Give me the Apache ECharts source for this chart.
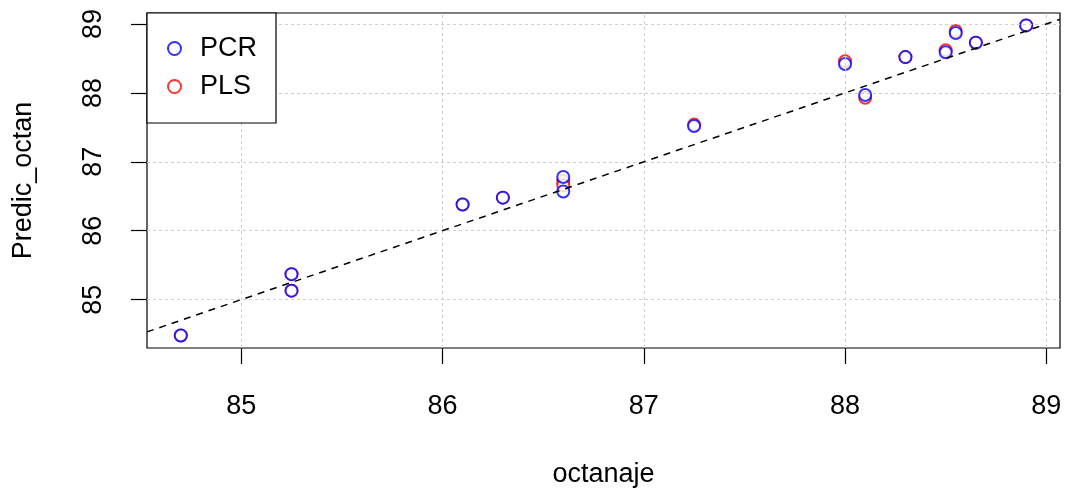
<!DOCTYPE html>
<html>
<head>
<meta charset="utf-8">
<script src="https://cdn.jsdelivr.net/npm/echarts@6/dist/echarts.min.js"></script>
<style>
html,body{margin:0;padding:0;background:#fff;}
#c{width:1067px;height:493px;}
</style>
</head>
<body>
<div id="c"></div>
<script>
// Data
const octanaje = [84.7, 85.25, 85.25, 86.1, 86.3, 86.6, 86.6, 87.25, 88.0, 88.1, 88.3, 88.5, 88.55, 88.65, 88.9];
const predPCR  = [84.48, 85.37, 85.13, 86.38, 86.48, 86.78, 86.57, 87.52, 88.42, 87.97, 88.52, 88.59, 88.87, 88.73, 88.98];
const predPLS  = [84.48, 85.37, 85.13, 86.38, 86.48, 86.72, 86.66, 87.54, 88.46, 87.93, 88.52, 88.62, 88.90, 88.73, 88.98];
const xTicks = [85, 86, 87, 88, 89];
const yTicks = [85, 86, 87, 88, 89];
const xRange = [84.532, 89.068];
const yRange = [84.298, 89.160];

const FONT = '"Liberation Sans", Arial, sans-serif';
const FS = 27;

const pcrData = octanaje.map((x, i) => [x, predPCR[i]]);
const plsData = octanaje.map((x, i) => [x, predPLS[i]]);

const gridLines = {
  silent: true,
  symbol: ['none', 'none'],
  label: { show: false },
  lineStyle: { color: '#cfcfcf', type: [3, 3], width: 1 },
  data: xTicks.map(v => ({ xAxis: v })).concat(yTicks.map(v => ({ yAxis: v })))
};

const chart = echarts.init(document.getElementById('c'), null, { renderer: 'canvas' });
chart.setOption({
  backgroundColor: '#ffffff',
  animation: false,
  textStyle: { fontFamily: FONT },
  grid: {
    left: 147, top: 13, right: 7, bottom: 145,
    show: true, borderColor: '#000', borderWidth: 1.2, backgroundColor: 'transparent'
  },
  legend: {
    orient: 'vertical',
    left: 147, top: 13,
    padding: [22, 19, 23, 20],
    itemGap: 11,
    itemWidth: 13, itemHeight: 13,
    backgroundColor: '#fff',
    borderColor: '#000', borderWidth: 1.2, borderRadius: 0,
    textStyle: { fontSize: FS, color: '#000', fontFamily: FONT, padding: [0, 0, 0, 14] },
    data: ['PCR', 'PLS'],
    z: 10
  },
  xAxis: {
    type: 'value', min: xRange[0], max: xRange[1],
    name: 'octanaje', nameLocation: 'middle', nameGap: 113,
    nameTextStyle: { fontSize: FS, color: '#000', fontFamily: FONT },
    axisLine: { show: false },
    axisTick: { show: true, customValues: xTicks, length: 16, lineStyle: { color: '#000', width: 1.2 } },
    axisLabel: { customValues: xTicks, fontSize: FS, color: '#000', margin: 45, fontFamily: FONT },
    splitLine: { show: false }
  },
  yAxis: {
    type: 'value', min: yRange[0], max: yRange[1],
    name: 'Predic_octan', nameLocation: 'middle', nameGap: 110,
    nameTextStyle: { fontSize: FS, color: '#000', fontFamily: FONT },
    axisLine: { show: false },
    axisTick: { show: true, customValues: yTicks, length: 16, lineStyle: { color: '#000', width: 1.2 } },
    axisLabel: { customValues: yTicks, fontSize: FS, color: '#000', margin: 40, rotate: 90, fontFamily: FONT },
    splitLine: { show: false }
  },
  series: [
    {
      name: 'grid', type: 'line', data: [], markLine: gridLines, silent: true, z: 1
    },
    {
      name: 'ref', type: 'line', data: [], silent: true, z: 2,
      markLine: {
        silent: true, symbol: ['none', 'none'], label: { show: false },
        lineStyle: { color: '#000', type: [7, 6], width: 1.5 },
        data: [[{ coord: [xRange[0], xRange[0]] }, { coord: [xRange[1], xRange[1]] }]]
      }
    },
    {
      name: 'PLS', type: 'scatter', data: plsData, symbol: 'emptyCircle', symbolSize: 12, z: 3,
      itemStyle: { color: '#ff0000', borderColor: '#ff0000', borderWidth: 1.5 }
    },
    {
      name: 'PCR', type: 'scatter', data: pcrData, symbol: 'emptyCircle', symbolSize: 12, z: 4,
      itemStyle: { color: '#0000ff', borderColor: '#0000ff', borderWidth: 1.5 }
    }
  ]
});
</script>
</body>
</html>
